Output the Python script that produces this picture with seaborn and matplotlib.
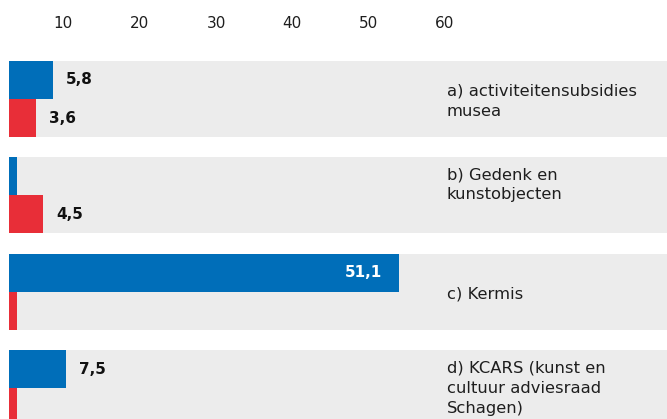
import matplotlib
matplotlib.use("Agg")
import matplotlib.pyplot as plt
import matplotlib.transforms as mtransforms
import seaborn as sns
import pandas as pd

categories = ["a) activiteitensubsidies\nmusea",
              "b) Gedenk en\nkunstobjecten",
              "c) Kermis",
              "d) KCARS (kunst en\ncultuur adviesraad\nSchagen)"]
series_names = ["reeks 1", "reeks 2"]
blue_values = [5.8, 1.0, 51.1, 7.5]
red_values = [3.6, 4.5, 1.0, 1.0]
blue_labels = ["5,8", "", "51,1", "7,5"]
red_labels = ["3,6", "4,5", "", ""]
ticks = [10, 20, 30, 40, 50, 60]

BLUE = "#006EB9"
RED = "#E82E38"
BAND = "#ECECEC"
TXT = "#1e1e1e"

df = pd.DataFrame({
    "categorie": categories * 2,
    "reeks": [series_names[0]] * 4 + [series_names[1]] * 4,
    "waarde": blue_values + red_values,
})

sns.set_theme(style="white")
plt.rcParams["font.family"] = ["DejaVu Sans"]

fig = plt.figure(figsize=(6.67, 4.19), dpi=100)
ax = fig.add_axes([9 / 667, 0, 658 / 667, 374 / 419])

for i in range(len(categories)):
    ax.axhspan(i - 0.395, i + 0.395, color=BAND, zorder=0, lw=0)

sns.barplot(data=df, x="waarde", y="categorie", hue="reeks", orient="h",
            palette=[BLUE, RED], width=0.79, gap=0, ax=ax, legend=False,
            saturation=1, zorder=2, linewidth=0)

ax.set_xlim(0, 86.2)
ax.set_ylim(3.32, -0.56)

# value labels
conts = ax.containers
for cont, labels, vals in zip(conts, [blue_labels, red_labels], [blue_values, red_values]):
    for bar, lab, v in zip(cont, labels, vals):
        if not lab:
            continue
        yc = bar.get_y() + bar.get_height() / 2
        if v > 30:
            ax.annotate(lab, (v, yc), xytext=(-12, 0), textcoords="offset points",
                        ha="right", va="center", color="white", fontsize=11,
                        fontweight="bold", zorder=5)
        else:
            ax.annotate(lab, (v, yc), xytext=(9, 0), textcoords="offset points",
                        ha="left", va="center", color="#111111", fontsize=11,
                        fontweight="bold", zorder=5)

# category labels on the right
yoffs = [0.02, -0.11, 0.02, 0.0]
for i, cat in enumerate(categories):
    ax.text(57.35, i + yoffs[i], cat, ha="left", va="center", fontsize=11.8,
            color=TXT, linespacing=1.45, zorder=5)

ax.set_yticks([])
ax.set_ylabel("")
ax.set_xlabel("")
ax.xaxis.tick_top()
ax.set_xticks(ticks)
ax.set_xticklabels([str(t) for t in ticks])
ax.tick_params(axis="x", length=0, pad=10, labelsize=11, colors=TXT)
off = mtransforms.ScaledTranslation(-22 / 100, 0, fig.dpi_scale_trans)
for lbl in ax.get_xticklabels():
    lbl.set_transform(lbl.get_transform() + off)
for s in ax.spines.values():
    s.set_visible(False)

fig.savefig("out.png", dpi=100)
